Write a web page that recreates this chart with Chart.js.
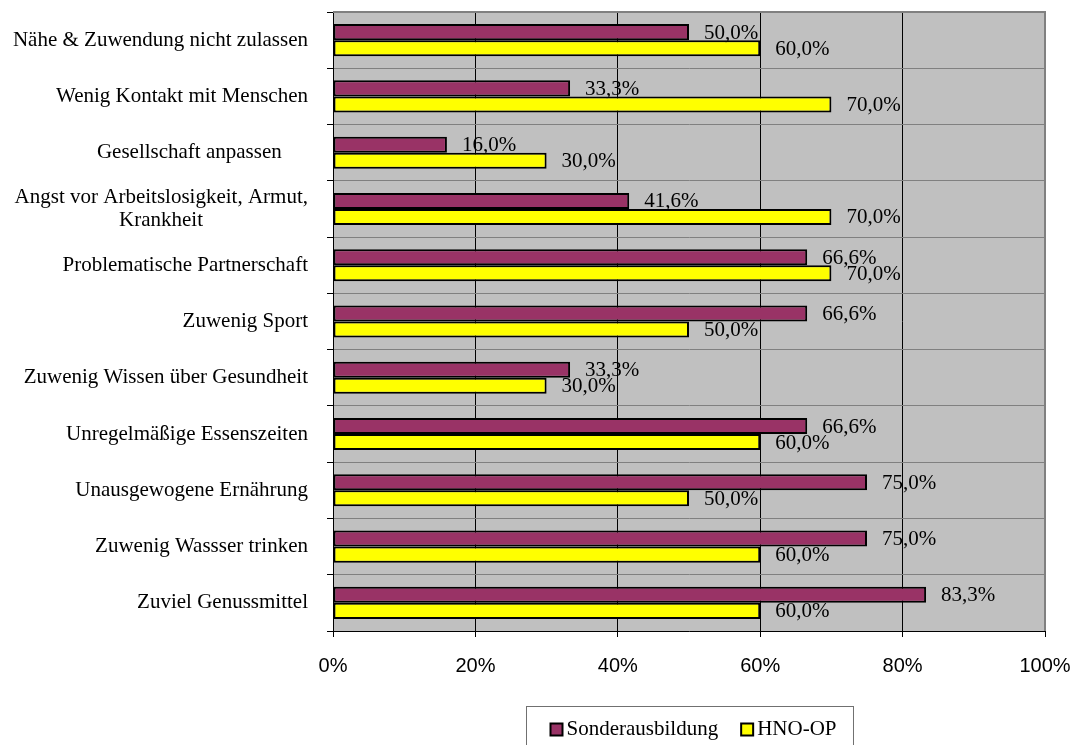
<!DOCTYPE html>
<html lang="de">
<head>
<meta charset="utf-8">
<title>Risikofaktoren</title>
<script src="https://cdn.jsdelivr.net/npm/chart.js@4.4.1/dist/chart.umd.min.js"></script>
<style>
  html, body { margin: 0; padding: 0; background: #fff; }
  #wrap { width: 1080px; height: 745px; position: relative; }
</style>
</head>
<body>
<div id="wrap"><canvas id="risiken"></canvas></div>
<script>
const kategorien = [
    'Nähe & Zuwendung nicht zulassen',
    'Wenig Kontakt mit Menschen',
    'Gesellschaft anpassen     ',
    ['Angst vor Arbeitslosigkeit, Armut,', 'Krankheit'],
    'Problematische Partnerschaft',
    'Zuwenig Sport',
    'Zuwenig Wissen über Gesundheit',
    'Unregelmäßige Essenszeiten',
    'Unausgewogene Ernährung',
    'Zuwenig Wassser trinken',
    'Zuviel Genussmittel'
];
const sonderausbildung = [50.0, 33.3, 16.0, 41.6, 66.6, 66.6, 33.3, 66.6, 75.0, 75.0, 83.3];
const hnoOp = [60.0, 70.0, 30.0, 70.0, 70.0, 50.0, 30.0, 60.0, 50.0, 60.0, 60.0];
const serienNamen = ['Sonderausbildung', 'HNO-OP'];

const SERIF = "'Liberation Serif', 'Times New Roman', serif";
const SANS = "'Liberation Sans', Arial, sans-serif";

// Hilfskontext zum Messen der Beschriftungen
const messCtx = document.createElement('canvas').getContext('2d');
messCtx.font = '21px ' + SERIF;

// Folgezeilen mehrzeiliger Beschriftungen unter der ersten Zeile zentrieren
function zentriereZeilen(label) {
    if (!Array.isArray(label)) return label;
    const w0 = messCtx.measureText(label[0]).width;
    const space = messCtx.measureText(' ').width;
    return label.map((line, i) => {
        if (i === 0) return line;
        const diff = (w0 - messCtx.measureText(line).width) / 2;
        return line + ' '.repeat(Math.max(0, Math.round(diff / space)));
    });
}

function prozent(v) {
    return v.toFixed(1).replace('.', ',') + '%';
}

// Hintergrund der Zeichenfläche, Rahmen, Wertbeschriftungen und Legende
const diagrammDeko = {
    id: 'diagrammDeko',
    beforeDraw(chart) {
        const { ctx, chartArea: a } = chart;
        ctx.save();
        ctx.fillStyle = '#c0c0c0';
        ctx.fillRect(a.left, a.top, a.right - a.left, a.bottom - a.top);
        ctx.restore();
    },
    beforeDatasetsDraw(chart) {
        const { ctx, chartArea: a } = chart;
        ctx.save();
        ctx.strokeStyle = '#808080';
        ctx.lineWidth = 2;
        ctx.beginPath();
        ctx.moveTo(a.left, a.top);
        ctx.lineTo(a.right, a.top);
        ctx.lineTo(a.right, a.bottom);
        ctx.stroke();
        ctx.restore();
    },
    afterDatasetsDraw(chart) {
        const ctx = chart.ctx;
        ctx.save();
        ctx.font = '21px ' + SERIF;
        ctx.fillStyle = '#000';
        ctx.textAlign = 'left';
        ctx.textBaseline = 'middle';
        chart.data.datasets.forEach((ds, i) => {
            chart.getDatasetMeta(i).data.forEach((bar, j) => {
                ctx.fillText(prozent(ds.data[j]), bar.x + 15, bar.y + 1);
            });
        });
        ctx.restore();
    },
    afterDraw(chart) {
        const { ctx, chartArea: a } = chart;
        ctx.save();
        ctx.font = '21px ' + SERIF;
        const box = 12, gapText = 4, gapItem = 23, padL = 24, padR = 17;
        const widths = chart.data.datasets.map(ds => ctx.measureText(ds.label).width);
        let total = padL + padR;
        widths.forEach((w, i) => { total += box + gapText + w + (i > 0 ? gapItem : 0); });
        const left = Math.round((a.left + a.right) / 2 - total / 2) + 0.5;
        const top = 706.5;
        ctx.strokeStyle = '#707070';
        ctx.lineWidth = 1;
        ctx.strokeRect(left, top, total, 80);
        let x = left + padL;
        const cy = 729.5;
        ctx.textBaseline = 'middle';
        ctx.textAlign = 'left';
        chart.data.datasets.forEach((ds, i) => {
            ctx.fillStyle = ds.backgroundColor;
            ctx.fillRect(x, cy - box / 2, box, box);
            ctx.strokeStyle = '#000';
            ctx.lineWidth = 2;
            ctx.strokeRect(x, cy - box / 2, box, box);
            ctx.fillStyle = '#000';
            ctx.fillText(ds.label, x + box + gapText, cy);
            x += box + gapText + widths[i] + gapItem;
        });
        ctx.restore();
    }
};

const ctx = document.getElementById('risiken').getContext('2d');

new Chart(ctx, {
    type: 'bar',
    data: {
        labels: kategorien,
        datasets: [{
            label: serienNamen[0],
            data: sonderausbildung,
            backgroundColor: '#993366',
            borderColor: '#000',
            borderWidth: 2,
            borderSkipped: false
        }, {
            label: serienNamen[1],
            data: hnoOp,
            backgroundColor: '#ffff00',
            borderColor: '#000',
            borderWidth: 2,
            borderSkipped: false
        }]
    },
    options: {
        indexAxis: 'y',
        responsive: true,
        maintainAspectRatio: false,
        animation: false,
        layout: { padding: { top: 12, right: 35, bottom: 54, left: 0 } },
        datasets: {
            bar: { barPercentage: 1, categoryPercentage: 0.57 }
        },
        plugins: {
            legend: { display: false },
            tooltip: { enabled: false }
        },
        scales: {
            x: {
                min: 0,
                max: 100,
                afterFit(scale) {
                    scale.height = 60;
                    scale.paddingLeft = 0;
                    scale.paddingRight = 0;
                },
                ticks: {
                    stepSize: 20,
                    padding: 17,
                    color: '#000',
                    font: { family: SANS, size: 20 },
                    callback: v => v + '%'
                },
                grid: {
                    color: ctx => ctx.index === 5 ? '#808080' : '#000',
                    tickColor: '#000',
                    tickLength: 6,
                    lineWidth: 1
                },
                border: { color: '#000', width: 1 }
            },
            y: {
                afterFit(scale) {
                    scale.width = 333;
                    scale.paddingTop = 0;
                    scale.paddingBottom = 0;
                },
                ticks: {
                    padding: 19,
                    color: '#000',
                    font: { family: SERIF, size: 21, lineHeight: 1.1 },
                    callback: function (value) {
                        return zentriereZeilen(this.getLabelForValue(value));
                    }
                },
                grid: {
                    color: '#808080',
                    tickColor: '#000',
                    tickLength: 6,
                    lineWidth: 1
                },
                border: { color: '#000', width: 1 }
            }
        }
    },
    plugins: [diagrammDeko]
});
</script>
</body>
</html>
